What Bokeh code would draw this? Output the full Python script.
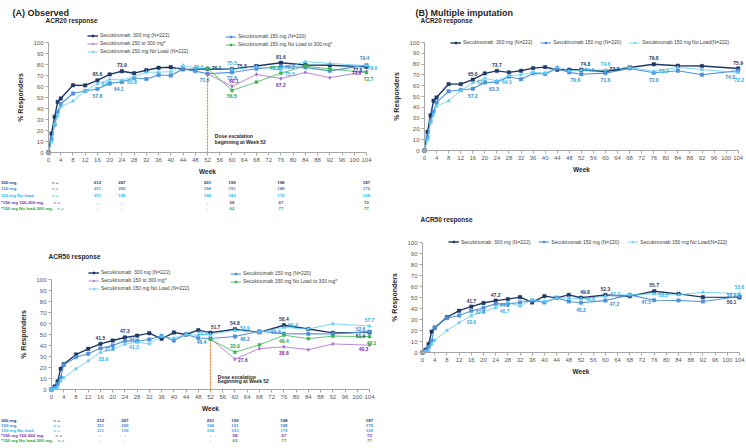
from bokeh.plotting import figure
from bokeh.models import (ColumnDataSource, Label, LabelSet, Legend, LegendItem, FixedTicker,
                          Range1d, LinearAxis)
from bokeh.layouts import row, column
from bokeh.embed import file_html
from bokeh.resources import INLINE
from bokeh.core.properties import value

FONT = "Liberation Sans"

# ---------------- data ----------------
weeks = [0, 1, 2, 3, 4, 8, 12, 16, 20, 24, 28, 32, 36, 40, 44, 48, 52, 60, 68, 76, 84, 92, 104]
esc_weeks = [52, 60, 68, 76, 84, 92, 104]
x_ticks = list(range(0, 105, 4))
y_ticks = list(range(0, 101, 10))
dose_week = 52

# (A) Observed - ACR20
a20_300 = [0, 17.3, 32.4, 46.0, 49.1, 61.2, 61.0, 65.6, 71.0, 73.9, 72.1, 74.8, 77.0, 77.5, 75.6, 75.8, 76.1, 75.8, 78.6, 81.6, 79.6, 79.3, 77.8]
a20_150 = [0, 12.3, 25.5, 37.0, 44.1, 53.6, 55.9, 57.8, 62.9, 64.1, 67.7, 66.8, 70.5, 70.0, 76.0, 74.0, 71.6, 72.8, 76.2, 78.2, 77.4, 74.2, 79.4]
a20_nl = [0, 10.0, 26.0, 33.0, 41.5, 46.7, 56.2, 62.5, 66.5, 65.8, 69.0, 73.0, 73.0, 73.5, 79.2, 76.8, 76.5, 75.5, 78.0, 75.5, 82.6, 81.0, 79.0]
a20_esc150 = [71.6, 60.1, 71.0, 67.2, 72.8, 68.0, 73.8]
a20_escnl = [76.5, 56.5, 64.0, 72.2, 78.6, 76.0, 72.7]

# (A) Observed - ACR50
a50_300 = [0, 2.7, 7.3, 18.8, 23.0, 31.8, 37.0, 41.5, 44.5, 47.3, 49.0, 51.2, 46.0, 51.8, 50.0, 54.0, 51.7, 54.8, 52.0, 58.4, 55.0, 51.5, 51.9]
a50_150 = [0, 1.5, 5.0, 11.0, 22.4, 29.4, 32.5, 37.4, 40.0, 44.2, 43.8, 45.5, 48.8, 44.5, 50.0, 46.8, 46.4, 48.2, 53.0, 50.8, 50.6, 50.5, 52.6]
a50_nl = [0, 0.6, 1.5, 7.6, 10.6, 18.8, 26.0, 33.6, 36.5, 41.2, 43.0, 41.5, 48.2, 46.7, 50.0, 49.4, 50.0, 53.9, 52.0, 56.4, 55.0, 59.7, 57.7]
a50_esc150 = [46.4, 27.6, 37.2, 38.8, 36.2, 41.4, 40.3]
a50_escnl = [45.5, 33.9, 40.6, 49.4, 46.2, 48.5, 48.1]

# (B) Multiple imputation - ACR20
b20_300 = [0, 17.3, 32.4, 46.0, 49.1, 61.5, 61.5, 65.6, 71.4, 73.7, 72.3, 73.8, 76.3, 77.2, 74.8, 74.8, 74.8, 73.2, 76.9, 79.8, 78.5, 78.2, 75.9]
b20_150 = [0, 12.5, 27.0, 36.0, 44.5, 54.8, 56.0, 57.2, 63.0, 63.3, 68.3, 66.0, 71.4, 70.8, 76.0, 72.3, 70.6, 71.6, 76.0, 72.0, 73.8, 70.2, 74.0]
b20_nl = [0, 10.0, 26.0, 33.0, 41.0, 46.0, 55.4, 62.6, 66.8, 64.5, 69.2, 70.2, 72.3, 71.7, 77.5, 73.8, 74.5, 74.6, 76.9, 73.3, 76.9, 75.0, 72.2]

# (B) Multiple imputation - ACR50
b50_300 = [0, 2.5, 7.5, 19.0, 22.4, 32.0, 38.0, 41.7, 45.0, 47.2, 48.5, 50.3, 45.5, 51.2, 49.7, 52.4, 49.8, 52.3, 51.2, 55.7, 53.3, 50.3, 50.1]
b50_150 = [0, 1.5, 5.0, 11.0, 23.0, 31.2, 33.6, 37.8, 40.6, 44.2, 44.2, 45.5, 47.3, 45.5, 49.7, 46.4, 45.2, 47.2, 52.4, 47.5, 47.3, 46.4, 50.9]
b50_nl = [0, 0.5, 1.5, 7.5, 11.0, 20.0, 27.0, 33.6, 37.3, 40.7, 45.2, 42.1, 47.9, 46.4, 49.4, 49.6, 48.8, 51.2, 52.7, 53.2, 52.4, 54.8, 53.6]

# numbers of patients (n)
table_weeks = [16, 24, 52, 60, 76, 104]
n_300 = ["212", "207", "201", "199", "198", "187"]
n_150 = ["211", "205", "196", "191", "188", "175"]
n_nl = ["211", "199", "190", "183", "179", "168"]
n_esc150 = ["-", "-", "-", "58", "67", "72"]
n_escnl = ["-", "-", "-", "62", "77", "77"]
row_labels = ["300 mg,", "150 mg,", "150 mg No load,", "*150 mg 150-300 mg,", "*150 mg No load-300 mg,"]

NAMES = {
    "300": "Secukinumab  300 mg (N=222)",
    "150": "Secukinumab 150 mg (N=220)",
    "esc150": "Secukinumab 150 to 300 mg*",
    "escnl": "Secukinumab 150 mg No Load to 300 mg*",
    "nl": "Secukinumab 150 mg No Load (N=222)",
}
NAMES_B = dict(NAMES, nl="Secukinumab 150 mg No Load(N=222)")

# ---------------- styles ----------------
COL = {"300": "#1F3864", "150": "#4E92D8", "nl": "#5CCBF5", "esc150": "#A46BCB", "escnl": "#3DB552"}
LCOL = {"300": "#1F3864", "150": "#3C86CF", "nl": "#1DB3EC", "esc150": "#7B2FA8", "escnl": "#1BA83A"}
STY = {
    "300": dict(marker="square", size=3.4, lw=1.4),
    "150": dict(marker="square", size=3.4, lw=1.1),
    "nl": dict(marker="triangle", size=3.4, lw=0.8),
    "esc150": dict(marker="diamond", size=3.6, lw=0.8),
    "escnl": dict(marker="square", size=2.8, lw=0.8),
}
TABLE_ORDER = ["300", "150", "nl", "esc150", "escnl"]
TABLE_VALUES = {"300": n_300, "150": n_150, "nl": n_nl, "esc150": n_esc150, "escnl": n_escnl}
TXT = "#262626"


def build(box, axis_px, series, lab_specs, legends, texts, table=None, dose=None):
    """box = (X0, Y0, W, H) page position of the figure; axis_px = page pixels of
    week 0, week 104, value 0 and value 100.  The frame fills the whole figure, the
    axes are drawn at their fixed data location."""
    X0, Y0, W, H = box
    x0, x104, y0, y100 = axis_px
    sx = (x104 - x0) / 104.0
    sy = (y0 - y100) / 100.0
    xs = -(x0 - X0) / sx
    ys = -((Y0 + H) - y0) / sy
    p = figure(width=W, height=H, min_border=0, title=None,
               x_range=Range1d(xs, xs + W / sx), y_range=Range1d(ys, ys + H / sy),
               x_axis_location=None, y_axis_location=None,
               output_backend="svg", toolbar_location=None, tools="")
    p.outline_line_color = None
    p.grid.visible = False

    def scr(ax, ay):
        return ax - X0, (Y0 + H) - ay

    xa = LinearAxis(fixed_location=0, bounds=(0, 104), ticker=FixedTicker(ticks=x_ticks),
                    axis_label="Week")
    ya = LinearAxis(fixed_location=0, bounds=(0, 100), ticker=FixedTicker(ticks=y_ticks),
                    axis_label="% Responders")
    for ax in (xa, ya):
        ax.axis_line_color = "#A6A6A6"
        ax.major_tick_line_color = "#A6A6A6"
        ax.minor_tick_line_color = None
        ax.major_tick_in = 0
        ax.major_tick_out = 3
        ax.major_label_text_font = FONT
        ax.major_label_text_font_size = "6px"
        ax.major_label_text_color = "#595959"
        ax.axis_label_text_font = FONT
        ax.axis_label_text_font_style = "bold"
        ax.axis_label_text_color = TXT
        ax.major_label_standoff = 2
    xa.axis_label_text_font_size = "6.5px"
    xa.axis_label_standoff = 3
    ya.axis_label_text_font_size = "7px"
    ya.axis_label_standoff = 6
    p.add_layout(xa, "below")
    p.add_layout(ya, "left")

    if dose is not None:
        top = min(v[esc_weeks.index(dose_week)] for k, (xx, v) in series.items() if k.startswith("esc"))
        p.segment(x0=[dose_week], y0=[0], x1=[dose_week], y1=[top],
                  line_color="#ED7D31", line_width=1.2, line_dash="2 1")
        for txt, yv in dose:
            p.add_layout(Label(x=dose_week + 2.4, y=yv, text=txt, text_font=FONT,
                               text_font_size="5px", text_font_style="bold",
                               text_color=TXT, text_baseline="middle"))

    rend = {}
    for key, (xx, yy) in series.items():
        st = STY[key]
        l = p.line(xx, yy, line_color=COL[key], line_width=st["lw"])
        s = p.scatter(xx, yy, marker=st["marker"], size=st["size"],
                      fill_color=COL[key], line_color=COL[key], line_width=0.5)
        rend[key] = [l, s]

    # data labels
    lx, ly, lt, dx, dy, lc = [], [], [], [], [], []
    for key, wk, ox, oy in lab_specs:
        xx, yy = series[key]
        v = yy[xx.index(wk)]
        lx.append(wk); ly.append(v); lt.append(f"{v:.1f}")
        dx.append(ox); dy.append(oy); lc.append(LCOL[key])
    src = ColumnDataSource(dict(x=lx, y=ly, t=lt, dx=dx, dy=dy, c=lc))
    p.add_layout(LabelSet(x="x", y="y", text="t", x_offset="dx", y_offset="dy", source=src,
                          text_color="c", text_font=value(FONT), text_font_size="5px",
                          text_font_style="bold", text_align="center", text_baseline="middle"))

    # legends (page position of glyph-left and bottom edge)
    for keys, (gx, gb), orient, names, spacing in legends:
        items = [LegendItem(label=names[k], renderers=rend[k]) for k in keys]
        lg = Legend(items=items, location=scr(gx, gb), orientation=orient)
        lg.label_text_font = FONT
        lg.label_text_font_size = "5px"
        lg.label_text_color = "#404040"
        lg.glyph_width = 11
        lg.glyph_height = 5
        lg.label_height = 5
        lg.label_standoff = 2
        lg.spacing = spacing
        lg.padding = 0
        lg.margin = 0
        lg.border_line_color = None
        lg.background_fill_alpha = 0
        p.add_layout(lg, "center")

    # free texts (page positions)
    for txt, ax_, ay_, size in texts:
        sxp, syp = scr(ax_, ay_)
        p.add_layout(Label(x=sxp, y=syp, x_units="screen", y_units="screen", text=txt,
                           text_font=FONT, text_font_size=size, text_font_style="bold",
                           text_color=TXT, text_baseline="middle"))

    # n-table below the chart
    if table is not None:
        rows_y, lab_x, n_xs = table
        for key, rl, ay_, n_x in zip(TABLE_ORDER, row_labels, rows_y, n_xs):
            lxp, yr = scr(lab_x, ay_)
            nxp, _ = scr(n_x, ay_)
            p.add_layout(Label(x=lxp, y=yr, x_units="screen", y_units="screen", text=rl,
                               text_font=FONT, text_font_size="4.4px", text_font_style="bold",
                               text_color=LCOL[key], text_baseline="middle"))
            p.add_layout(Label(x=nxp, y=yr, x_units="screen", y_units="screen", text="n =",
                               text_font=FONT, text_font_size="4.4px",
                               text_color=LCOL[key], text_baseline="middle"))
            tsrc = ColumnDataSource(dict(x=table_weeks, t=TABLE_VALUES[key]))
            p.add_layout(LabelSet(x="x", y=yr, y_units="screen", text="t", source=tsrc,
                                  text_color=LCOL[key], text_font=value(FONT),
                                  text_font_size="4.4px", text_font_style="bold",
                                  text_align="center", text_baseline="middle"))
    return p


# ---------------- (A) ACR20 ----------------
sA20 = {"300": (weeks, a20_300), "150": (weeks, a20_150), "nl": (weeks, a20_nl),
        "esc150": (esc_weeks, a20_esc150), "escnl": (esc_weeks, a20_escnl)}
labA20 = [("300", 16, 0, 6), ("300", 24, 0, 6), ("300", 52, 9, 1), ("300", 60, 10, 3),
          ("300", 76, 0, 6), ("300", 104, -9, -3),
          ("150", 16, 0, -7), ("150", 24, -3, -7), ("150", 52, -3, -6), ("150", 60, 0, -6),
          ("150", 76, 9, -1), ("150", 104, -2, 7),
          ("nl", 16, 9, 0), ("nl", 24, 10, -2), ("nl", 52, -9, 1), ("nl", 60, 0, 6),
          ("nl", 76, 9, -5), ("nl", 104, 6, -2),
          ("esc150", 60, 2, 5), ("esc150", 76, 0, -6), ("esc150", 104, -10, -2),
          ("escnl", 60, 0, -6), ("escnl", 76, -6, 5), ("escnl", 104, 2, -6)]
pA20 = build((0, 0, 380, 226), (48, 366, 152, 42), sA20, labA20,
             [(["300", "esc150", "nl"], (87, 54), "vertical", NAMES, 2),
              (["150", "escnl"], (225, 47), "vertical", NAMES, 2)],
             [("(A)  Observed", 12, 12, "9px"),
              ("ACR20 response", 45, 19.7, "6.5px")],
             table=([182, 188.4, 195, 201.6, 208.2], 0.5, [51.5, 51.5, 51.5, 53.5, 57]),
             dose=[("Dose escalation", 15), ("beginning at Week 52", 10)])

# ---------------- (A) ACR50 ----------------
sA50 = {"300": (weeks, a50_300), "150": (weeks, a50_150), "nl": (weeks, a50_nl),
        "esc150": (esc_weeks, a50_esc150), "escnl": (esc_weeks, a50_escnl)}
labA50 = [("300", 16, 0, 6), ("300", 24, 0, 6), ("300", 52, 5, 6), ("300", 60, 0, 6),
          ("300", 76, 0, 6), ("300", 104, -9, -4),
          ("150", 16, 9, -1), ("150", 24, 9, 2), ("150", 52, -9, -4), ("150", 60, 10, -3),
          ("150", 76, -8, 2), ("150", 104, -9, 3),
          ("nl", 16, 3, -6), ("nl", 24, 9, -3), ("nl", 52, -8, 2), ("nl", 60, 10, 2),
          ("nl", 76, 9, 2), ("nl", 104, 0, 6),
          ("esc150", 60, 8, -1), ("esc150", 76, 0, -6), ("esc150", 104, -6, -4),
          ("escnl", 60, 0, 6), ("escnl", 76, 0, -6), ("escnl", 104, 2, -6)]
pA50 = build((0, 226, 380, 222), (51, 369, 389, 279), sA50, labA50,
             [(["300", "esc150", "nl"], (88, 291), "vertical", NAMES, 2),
              (["150", "escnl"], (230, 284), "vertical", NAMES, 2)],
             [("ACR50 response", 48, 256, "6.5px")],
             table=([419.7, 424.7, 429.7, 434.7, 439.7], 0.5, [53, 53, 53, 55, 57.5]),
             dose=[("Dose escalation", 11.8), ("beginning at Week 52", 7.3)])

# ---------------- (B) ACR20 ----------------
sB20 = {"300": (weeks, b20_300), "150": (weeks, b20_150), "nl": (weeks, b20_nl)}
labB20 = [("300", 16, 0, 6), ("300", 24, 0, 6), ("300", 52, 4, 6), ("300", 60, 9, 2),
          ("300", 76, 0, 6), ("300", 104, 0, 6),
          ("150", 16, 0, -7), ("150", 24, -3, -7), ("150", 52, -6, -6), ("150", 60, 0, -7),
          ("150", 76, 0, -7), ("150", 104, -8, -6),
          ("nl", 16, 9, 1), ("nl", 24, 10, -1), ("nl", 52, 8, 0), ("nl", 60, 0, 6),
          ("nl", 76, 10, 0), ("nl", 104, 1, -7)]
pB20 = build((380, 0, 366, 200), (424, 737.7, 150, 42), sB20, labB20,
             [(["300", "150", "nl"], (450, 45), "horizontal", NAMES_B, 8)],
             [("(B)  Multiple imputation", 415, 12, "9px"),
              ("ACR20 response", 420, 19.7, "6.5px")])

# ---------------- (B) ACR50 ----------------
sB50 = {"300": (weeks, b50_300), "150": (weeks, b50_150), "nl": (weeks, b50_nl)}
labB50 = [("300", 16, 0, 6), ("300", 24, 0, 6), ("300", 52, 4, 6), ("300", 60, 0, 6),
          ("300", 76, 0, 6), ("300", 104, -8, -5),
          ("150", 16, 9, -1), ("150", 24, 9, -1), ("150", 52, 0, -7), ("150", 60, 9, -3),
          ("150", 76, -8, -2), ("150", 104, -8, 2),
          ("nl", 16, 0, -6), ("nl", 24, 9, -3), ("nl", 52, 9, 0), ("nl", 60, 10, 2),
          ("nl", 76, 9, -1), ("nl", 104, 0, 7)]
pB50 = build((380, 200, 366, 248), (422, 739, 352, 242), sB50, labB50,
             [(["300", "150", "nl"], (448, 244.8), "horizontal", NAMES_B, 8)],
             [("ACR50 response", 420, 219, "6.5px")])

layout = row(column(pA20, pA50), column(pB20, pB50))
open("out.html", "w").write(file_html(layout, INLINE))
